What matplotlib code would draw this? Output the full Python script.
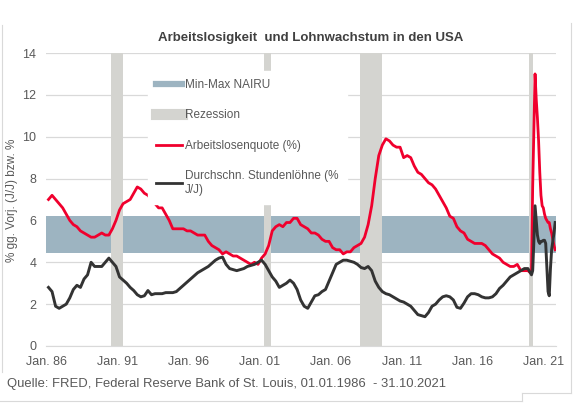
import matplotlib
matplotlib.use("Agg")
from matplotlib import pyplot as plt
from matplotlib.lines import Line2D

plt.rcParams["font.family"] = ["Liberation Sans", "DejaVu Sans"]

# unemployment rate (%), quarterly 1986-2019, then monthly 2020 - Oct 2021
ur_quarterly = [
    7.0, 7.2, 7.0, 6.8,   6.6, 6.3, 6.0, 5.8,   5.7, 5.5, 5.4, 5.3,
    5.2, 5.2, 5.3, 5.4,   5.3, 5.3, 5.6, 6.0,   6.5, 6.8, 6.9, 7.0,
    7.3, 7.6, 7.5, 7.3,   7.2, 7.0, 6.8, 6.6,   6.6, 6.3, 6.0, 5.6,
    5.6, 5.6, 5.6, 5.5,   5.5, 5.4, 5.3, 5.3,   5.3, 5.0, 4.8, 4.7,
    4.6, 4.4, 4.5, 4.4,   4.3, 4.3, 4.2, 4.1,   4.0, 3.9, 4.0, 3.9,
    4.2, 4.4, 4.8, 5.5,   5.7, 5.8, 5.7, 5.9,   5.9, 6.1, 6.1, 5.8,
    5.7, 5.6, 5.4, 5.4,   5.3, 5.1, 5.0, 5.0,   4.7, 4.6, 4.6, 4.4,
    4.5, 4.5, 4.7, 4.8,   4.9, 5.2, 5.8, 6.7,   8.0, 9.1, 9.6, 9.9,
    9.8, 9.6, 9.5, 9.5,   9.0, 9.1, 9.0, 8.6,   8.3, 8.2, 8.0, 7.8,
    7.7, 7.5, 7.2, 6.9,   6.6, 6.2, 6.1, 5.7,   5.5, 5.4, 5.1, 5.0,
    4.9, 4.9, 4.9, 4.8,   4.6, 4.4, 4.3, 4.2,   4.0, 3.9, 3.8, 3.8,
    3.9, 3.6, 3.6, 3.6,
]
ur_monthly = [
    3.5, 3.6, 7.6, 10.3, 13.0, 11.8, 10.9, 9.8, 8.3, 7.2, 6.7, 6.6,
    6.3, 6.1, 6.0, 5.9, 5.9, 5.6, 5.4, 5.1, 4.8, 4.6,
]

# average hourly earnings (% y/y), same schedule
wage_quarterly = [
    2.8, 2.6, 1.9, 1.8,   1.9, 2.0, 2.3, 2.7,   2.9, 2.8, 3.2, 3.4,
    4.0, 3.8, 3.8, 3.8,   4.0, 4.2, 4.0, 3.8,   3.3, 3.15, 3.0, 2.8,
    2.65, 2.45, 2.35, 2.4,   2.65, 2.45, 2.5, 2.5,   2.5, 2.55, 2.55, 2.55,
    2.6, 2.75, 2.9, 3.05,   3.2, 3.35, 3.5, 3.6,   3.7, 3.8, 3.95, 4.1,
    4.2, 4.25, 3.9, 3.7,   3.65, 3.6, 3.65, 3.7,   3.8, 3.85, 3.9, 4.0,
    4.1, 3.9, 3.6, 3.3,   3.1, 2.8, 2.9, 3.0,   3.15, 3.0, 2.7, 2.2,
    1.9, 1.8, 2.1, 2.4,   2.45, 2.6, 2.7, 3.1,   3.5, 3.9, 4.0, 4.1,
    4.1, 4.05, 4.0, 3.9,   3.75, 3.7, 3.8, 3.6,   3.1, 2.8, 2.6, 2.5,
    2.45, 2.35, 2.25, 2.15,   2.1, 2.0, 1.9, 1.7,   1.5, 1.45, 1.4, 1.6,
    1.9, 2.0, 2.2, 2.35,   2.4, 2.35, 2.2, 1.85,   1.8, 2.05, 2.35, 2.5,
    2.5, 2.45, 2.35, 2.3,   2.3, 2.35, 2.5, 2.75,   2.9, 3.1, 3.3, 3.4,
    3.5, 3.6, 3.7, 3.7,
]
wage_monthly = [
    3.5, 3.4, 3.6, 5.0, 6.7, 6.0, 5.3, 5.0, 4.9, 5.0, 5.0, 5.05,
    5.05, 4.9, 3.8, 2.6, 2.4, 3.7, 4.6, 5.0, 5.4, 5.9,
]

recessions = [(1990.5, 1991.35), (2001.28, 2001.82), (2008.04, 2009.57), (2019.94, 2020.23)]
nairu_min, nairu_max = 4.45, 6.2

tick_years = [1986, 1991, 1996, 2001, 2006, 2011, 2016, 2021]
tick_labels = ["Jan. 86", "Jan. 91", "Jan. 96", "Jan. 01", "Jan. 06", "Jan. 11", "Jan. 16", "Jan. 21"]

x_q = [1986.125 + 0.25 * i for i in range(len(ur_quarterly))]
x_m = [2020 + (m + 0.5) / 12 for m in range(len(ur_monthly))]
x = x_q + x_m
ur = ur_quarterly + ur_monthly
wage = wage_quarterly + wage_monthly

red = "#F0002D"
dark = "#333333"
rec_col = "#D4D4D0"
nairu_col = "#9DB4C1"
txt = "#595959"

fig = plt.figure(figsize=(5.75, 4.18), dpi=100)
ax = fig.add_axes([46 / 575, 1 - 346 / 418, 510 / 575, 293 / 418])

ax.axhspan(nairu_min, nairu_max, color=nairu_col, lw=0, zorder=1)
for a, b in recessions:
    ax.axvspan(a, b, color=rec_col, lw=0, zorder=2)

ax.plot(x, ur, color=red, lw=2.0, zorder=4)
ax.plot(x, wage, color=dark, lw=2.1, zorder=4)

ax.set_xlim(1985.95, 2021.85)
ax.set_ylim(0, 14)
ax.set_yticks(range(0, 15, 2))
ax.set_xticks(tick_years)
ax.set_xticklabels(tick_labels)
ax.grid(axis="y", color="#D9D9D9", lw=0.9, zorder=0)
ax.set_axisbelow(True)
for s in ["top", "right", "left"]:
    ax.spines[s].set_visible(False)
ax.spines["bottom"].set_color("#D9D9D9")
ax.tick_params(length=0, labelsize=9, labelcolor=txt, pad=7)

handles = [
    Line2D([], [], color=nairu_col, lw=4.5),
    Line2D([], [], color=rec_col, lw=8),
    Line2D([], [], color=red, lw=2),
    Line2D([], [], color=dark, lw=2),
]
labels = ["Min-Max NAIRU", "Rezession", "Arbeitslosenquote (%)", "Durchschn. Stundenlöhne (%\nJ/J)"]
leg = ax.legend(handles, labels, loc="upper left", bbox_to_anchor=(0.2, 0.939),
                borderaxespad=0, frameon=True, facecolor="white", edgecolor="white",
                framealpha=1, fancybox=False, fontsize=8.5, labelspacing=1.55,
                handlelength=2.2, handletextpad=0.25, borderpad=0.7)
leg.set_zorder(5)
for t in leg.get_texts():
    t.set_color(txt)

fig.text(311 / 575, 1 - 38 / 418, "Arbeitslosigkeit  und Lohnwachstum in den USA",
         ha="center", va="center", fontsize=9.5, fontweight="bold", color="#404040")
fig.text(12 / 575, 1 - 200 / 418, "% gg. Vorj. (J/J) bzw. %", rotation=90,
         ha="center", va="center", fontsize=8.5, color=txt)
fig.text(7 / 575, 1 - 384 / 418, "Quelle: FRED, Federal Reserve Bank of St. Louis, 01.01.1986  - 31.10.2021",
         ha="left", va="center", fontsize=9.4, color=txt)

# thin frame around the chart
border = "#D9D9D9"
for xs, ys in [([2, 2], [25, 372]), ([571, 571], [23, 393]), ([522, 571], [393, 393]),
               ([522, 522], [393, 401]), ([0, 522], [401, 401])]:
    fig.add_artist(Line2D([v / 575 for v in xs], [1 - v / 418 for v in ys], color=border, lw=0.8))

fig.savefig("out.png", dpi=100)
